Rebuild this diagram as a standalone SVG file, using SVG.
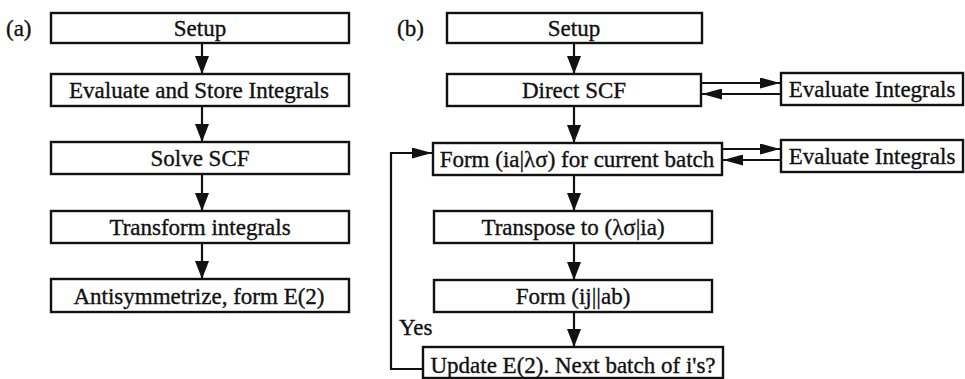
<svg xmlns="http://www.w3.org/2000/svg" width="965" height="379" viewBox="0 0 965 379">
  <style>
    .box { fill: #ffffff; stroke: #111111; stroke-width: 2.4; }
    .lbl { font-family: "Liberation Serif", "Times New Roman", "DejaVu Serif", serif; font-size: 23px; fill: #111111; stroke: #111111; stroke-width: 0.35; text-anchor: middle; }
    .tag { font-family: "Liberation Serif", "Times New Roman", "DejaVu Serif", serif; font-size: 23px; fill: #111111; stroke: #111111; stroke-width: 0.35; }
    .wire { fill: none; stroke: #111111; stroke-width: 2.2; }
  </style>
  <defs>
    <marker id="headV" markerUnits="userSpaceOnUse" markerWidth="18" markerHeight="14" refX="18" refY="7" orient="auto">
      <path d="M0,0 L18,7 L0,14 Z" fill="#111111"/>
    </marker>
    <marker id="headH" markerUnits="userSpaceOnUse" markerWidth="20" markerHeight="11" refX="20" refY="5.5" orient="auto">
      <path d="M0,0 L20,5.5 L0,11 Z" fill="#111111"/>
    </marker>
  </defs>

  <rect width="965" height="379" fill="#ffffff"/>

  <!-- panel labels -->
  <text class="tag" x="6" y="36">(a)</text>
  <text class="tag" x="397" y="36">(b)</text>

  <!-- panel (a): conventional flow -->
  <g id="a-setup">
    <rect class="box" x="51" y="13" width="298" height="30"/>
    <text class="lbl" x="200" y="36">Setup</text>
  </g>
  <g id="a-evaluate-store">
    <rect class="box" x="51" y="74" width="298" height="32"/>
    <text class="lbl" x="199" y="98">Evaluate and Store Integrals</text>
  </g>
  <g id="a-solve-scf">
    <rect class="box" x="51" y="142" width="298" height="32"/>
    <text class="lbl" x="200" y="166">Solve SCF</text>
  </g>
  <g id="a-transform">
    <rect class="box" x="51" y="211" width="298" height="32"/>
    <text class="lbl" x="200" y="235">Transform integrals</text>
  </g>
  <g id="a-antisymmetrize">
    <rect class="box" x="51" y="279" width="298" height="33"/>
    <text class="lbl" x="199" y="304">Antisymmetrize, form E(2)</text>
  </g>

  <!-- panel (b): direct, batched flow -->
  <g id="b-setup">
    <rect class="box" x="447" y="13" width="255" height="30"/>
    <text class="lbl" x="574" y="36">Setup</text>
  </g>
  <g id="b-direct-scf">
    <rect class="box" x="447" y="74" width="254" height="32"/>
    <text class="lbl" x="574" y="98">Direct SCF</text>
  </g>
  <g id="b-eval-1">
    <rect class="box" x="781" y="73" width="182" height="32"/>
    <text class="lbl" x="872" y="97">Evaluate Integrals</text>
  </g>
  <g id="b-form-batch">
    <rect class="box" x="433" y="143" width="289" height="32"/>
    <text class="lbl" x="577" y="167">Form (ia|λσ) for current batch</text>
  </g>
  <g id="b-eval-2">
    <rect class="box" x="781" y="140" width="182" height="32"/>
    <text class="lbl" x="872" y="164">Evaluate Integrals</text>
  </g>
  <g id="b-transpose">
    <rect class="box" x="434" y="211" width="278" height="32"/>
    <text class="lbl" x="573" y="235">Transpose to (λσ|ia)</text>
  </g>
  <g id="b-form-ijab">
    <rect class="box" x="434" y="280" width="278" height="32"/>
    <text class="lbl" x="573" y="304">Form (ij||ab)</text>
  </g>
  <g id="b-update">
    <rect class="box" x="423" y="347" width="300" height="31"/>
    <text class="lbl" x="573" y="373">Update E(2).  Next batch of i's?</text>
  </g>
  <text class="tag" x="399" y="335">Yes</text>

  <!-- connectors -->
  <g id="connectors">
    <line class="wire" x1="202" y1="43" x2="202" y2="74" marker-end="url(#headV)"/>
    <line class="wire" x1="202" y1="106" x2="202" y2="142" marker-end="url(#headV)"/>
    <line class="wire" x1="202" y1="174" x2="202" y2="211" marker-end="url(#headV)"/>
    <line class="wire" x1="202" y1="243" x2="202" y2="279" marker-end="url(#headV)"/>

    <line class="wire" x1="574" y1="43" x2="574" y2="74" marker-end="url(#headV)"/>
    <line class="wire" x1="574" y1="106" x2="574" y2="143" marker-end="url(#headV)"/>
    <line class="wire" x1="574" y1="175" x2="574" y2="211" marker-end="url(#headV)"/>
    <line class="wire" x1="574" y1="243" x2="574" y2="280" marker-end="url(#headV)"/>
    <line class="wire" x1="574" y1="312" x2="574" y2="347" marker-end="url(#headV)"/>

    <line class="wire" x1="701" y1="83" x2="780" y2="83" marker-end="url(#headH)"/>
    <line class="wire" x1="781" y1="94" x2="702" y2="94" marker-end="url(#headH)"/>
    <line class="wire" x1="722" y1="149" x2="780" y2="149" marker-end="url(#headH)"/>
    <line class="wire" x1="781" y1="160" x2="723" y2="160" marker-end="url(#headH)"/>

    <path class="wire" d="M423,369 H391 V153 H432" marker-end="url(#headH)"/>
  </g>
</svg>
